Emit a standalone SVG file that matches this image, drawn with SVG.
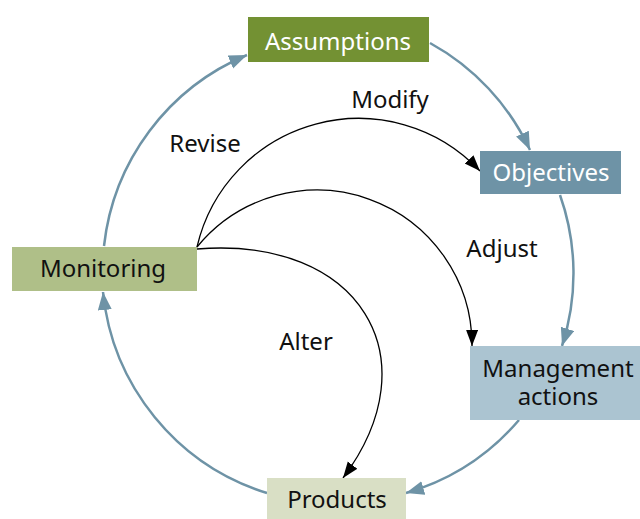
<svg xmlns="http://www.w3.org/2000/svg" width="640" height="519" viewBox="0 0 640 519">
<style>
  text { font-family: "Noto Sans", "Open Sans", sans-serif; font-size: 24px; text-anchor: middle; }
  .lbl { fill: #111; }
  .wt { fill: #ffffff; }
  .cyc { fill: none; stroke: #6e93a6; stroke-width: 2.5; }
  .inf { fill: none; stroke: #000; stroke-width: 1.3; }
</style>
<defs>
  <marker id="ab" markerUnits="userSpaceOnUse" markerWidth="20" markerHeight="16" refX="18" refY="7" orient="auto">
    <path d="M0,0 L18,7 L0,14 Z" fill="#6e93a6"/>
  </marker>
  <marker id="ak" markerUnits="userSpaceOnUse" markerWidth="18" markerHeight="14" refX="16" refY="6" orient="auto">
    <path d="M0,0 L16,6 L0,12 Z" fill="#000"/>
  </marker>
</defs>
<g id="connectors">
  <path class="cyc" d="M104,246 A235,235 0 0,1 247,55" marker-end="url(#ab)"/>
  <path class="cyc" d="M430,43 A235,235 0 0,1 530,150" marker-end="url(#ab)"/>
  <path class="cyc" d="M560,195 A235,235 0 0,1 562,346" marker-end="url(#ab)"/>
  <path class="cyc" d="M519,420 A235,235 0 0,1 406,493" marker-end="url(#ab)"/>
  <path class="cyc" d="M267,493 A235,235 0 0,1 103,292" marker-end="url(#ab)"/>
  <path class="inf" d="M197,247 A166,166 0 0,1 480,171" marker-end="url(#ak)"/>
  <path class="inf" d="M197,247 A155,155 0 0,1 472,346" marker-end="url(#ak)"/>
  <path class="inf" d="M197,249 C360,236 433,358 343,478" marker-end="url(#ak)"/>
  <text class="lbl" x="205" y="152">Revise</text>
  <text class="lbl" x="390" y="108">Modify</text>
  <text class="lbl" x="502" y="257">Adjust</text>
  <text class="lbl" x="306" y="350">Alter</text>
</g>
<g id="assumptions">
  <rect x="248" y="17" width="181" height="45" fill="#739133"/>
  <text class="wt" x="338" y="50">Assumptions</text>
</g>
<g id="objectives">
  <rect x="480" y="151" width="141" height="43" fill="#6e93a6"/>
  <text class="wt" x="551" y="181">Objectives</text>
</g>
<g id="management">
  <rect x="470" y="346" width="170" height="74" fill="#abc4d1"/>
  <text class="lbl" x="558" y="377">Management</text>
  <text class="lbl" x="558" y="405">actions</text>
</g>
<g id="products">
  <rect x="267" y="478" width="139" height="41" fill="#d9dfc5"/>
  <text class="lbl" x="337" y="508">Products</text>
</g>
<g id="monitoring">
  <rect x="12" y="247" width="185" height="44" fill="#afbf88"/>
  <text class="lbl" x="103" y="277">Monitoring</text>
</g>
</svg>
